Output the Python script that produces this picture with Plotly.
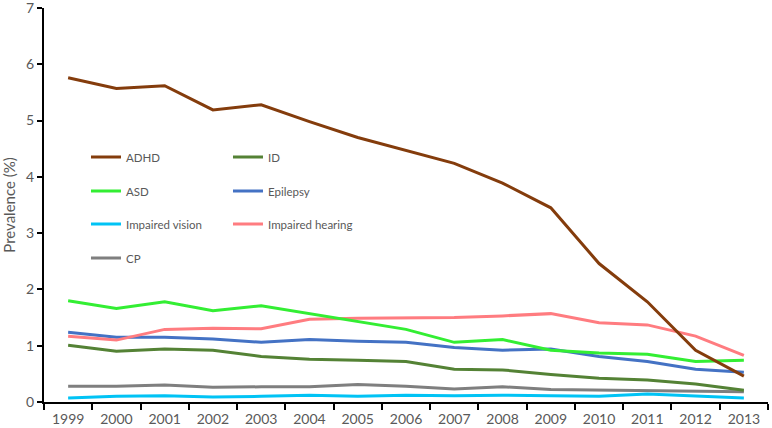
import plotly.graph_objects as go

years = [str(y) for y in range(1999, 2014)]
adhd = [5.76, 5.57, 5.62, 5.19, 5.28, 4.98, 4.70, 4.47, 4.24, 3.89, 3.45, 2.46, 1.78, 0.92, 0.46]
intellectual = [1.01, 0.90, 0.94, 0.92, 0.81, 0.76, 0.74, 0.72, 0.58, 0.57, 0.49, 0.42, 0.39, 0.32, 0.21]
asd = [1.80, 1.66, 1.78, 1.62, 1.71, 1.57, 1.43, 1.29, 1.06, 1.11, 0.92, 0.87, 0.85, 0.72, 0.74]
epilepsy = [1.24, 1.15, 1.15, 1.12, 1.06, 1.11, 1.08, 1.06, 0.97, 0.92, 0.94, 0.81, 0.72, 0.58, 0.53]
vision = [0.07, 0.10, 0.11, 0.09, 0.10, 0.12, 0.10, 0.12, 0.11, 0.12, 0.11, 0.10, 0.14, 0.11, 0.07]
hearing = [1.17, 1.10, 1.29, 1.31, 1.30, 1.47, 1.49, 1.50, 1.50, 1.53, 1.57, 1.41, 1.37, 1.17, 0.83]
cp = [0.28, 0.28, 0.30, 0.26, 0.27, 0.27, 0.31, 0.28, 0.23, 0.27, 0.22, 0.21, 0.19, 0.18, 0.18]

series = [
    ("CP", cp, "#7F7F7F", "legend4"),
    ("Impaired vision", vision, "#00C3F5", "legend3"),
    ("ID", intellectual, "#548235", "legend"),
    ("Epilepsy", epilepsy, "#4472C4", "legend2"),
    ("Impaired hearing", hearing, "#FF7C80", "legend3"),
    ("ASD", asd, "#33EE33", "legend2"),
    ("ADHD", adhd, "#843C0C", "legend"),
]
order = {"ADHD": 1, "ID": 2, "ASD": 1, "Epilepsy": 2, "Impaired vision": 1,
         "Impaired hearing": 2, "CP": 1}

fig = go.Figure()
for name, vals, color, lg in series:
    fig.add_trace(go.Scatter(x=years, y=vals, name=name, mode="lines",
                             line=dict(color=color, width=3),
                             legend=lg, legendrank=order[name]))

font_color = "#595959"
leg_common = dict(orientation="h", entrywidth=97, entrywidthmode="pixels",
                  font=dict(family="Lato", size=11.5, color=font_color),
                  bgcolor="rgba(0,0,0,0)", xanchor="left", yanchor="middle",
                  traceorder="normal", itemwidth=30)
x_leg = 0.058
top, bottom = 8, 402
h = bottom - top
fig.update_layout(
    width=772, height=428,
    margin=dict(l=44, r=4, t=top, b=428 - bottom),
    plot_bgcolor="white", paper_bgcolor="white",
    font=dict(family="Lato", size=14, color=font_color),
    legend=dict(x=x_leg, y=(bottom - 157) / h, **leg_common),
    legend2=dict(x=x_leg, y=(bottom - 191) / h, **leg_common),
    legend3=dict(x=x_leg, y=(bottom - 224) / h, **leg_common),
    legend4=dict(x=x_leg, y=(bottom - 258) / h, **leg_common),
    xaxis=dict(type="category", tickson="boundaries", range=[-0.5, 14.5],
               showline=True, linecolor="black", linewidth=2, ticks="outside",
               ticklen=6, tickcolor="black", tickwidth=2, showgrid=False,
               ticklabelstandoff=3, ticklabeloverflow="allow", automargin=False,
               tickfont=dict(size=14, color=font_color)),
    yaxis=dict(range=[0, 7], dtick=1, showline=True, linecolor="black",
               linewidth=2, ticks="outside", ticklen=5, tickcolor="black",
               tickwidth=2, showgrid=False, zeroline=False, automargin=False,
               ticklabeloverflow="allow",
               title=dict(text="Prevalence (%)", standoff=10,
                          font=dict(size=15, color=font_color)),
               tickfont=dict(size=14, color=font_color)),
)

fig.write_html("out.html")
